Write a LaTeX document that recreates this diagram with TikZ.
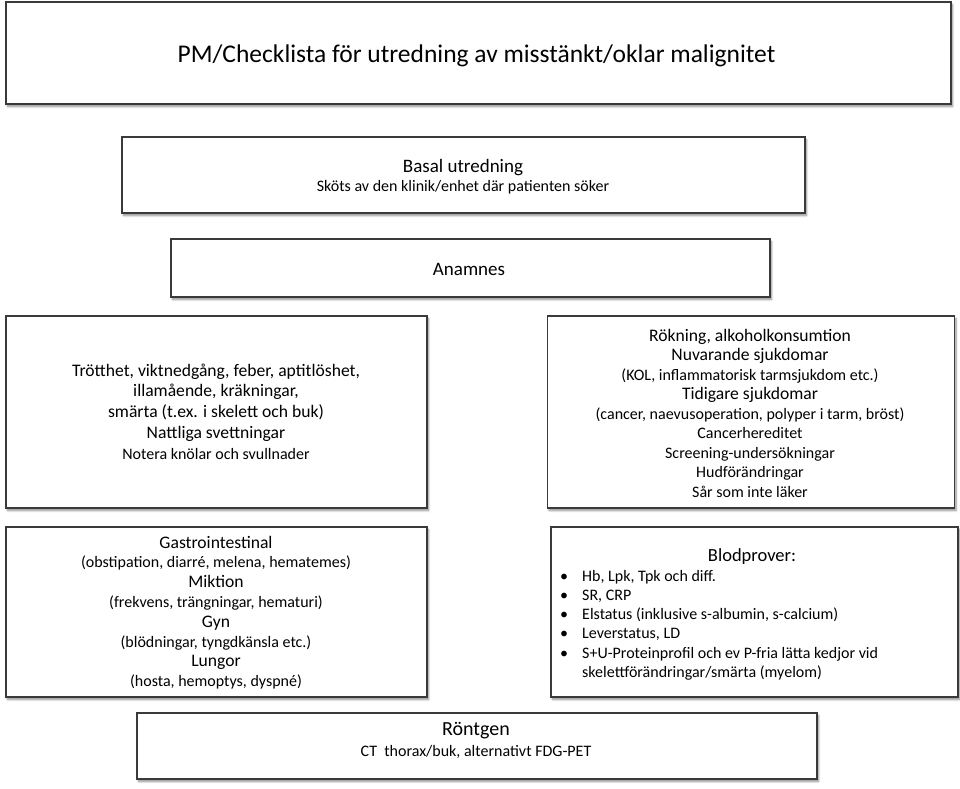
\documentclass[tikz,border=0pt]{standalone}
\usepackage{fontspec}
\setmainfont{Carlito}
\usetikzlibrary{shadows.blur}
\definecolor{edge}{HTML}{3A3A3A}
\tikzset{
  box/.style={draw=edge, line width=1.2pt, fill=white, inner sep=0pt, align=center,
    blur shadow={shadow xshift=1.5pt, shadow yshift=-2.5pt, shadow blur steps=6, shadow blur radius=2pt, shadow opacity=45}},
  txt/.style={inner sep=0pt, align=center, text=black},
}
\newcommand{\mysml}{\fontsize{16}{20}\selectfont}
\begin{document}
\begin{tikzpicture}[x=1pt,y=-1pt]
\useasboundingbox (0,0) rectangle (960,788);
% title
\node[box, minimum width=945, minimum height=102] (title) at (478.5,53) {};
\node[txt, font=\fontsize{25.5}{30}\selectfont] (titletext) at (476.5,55.5) {PM/Checklista för utredning av misstänkt/oklar malignitet};
% basal
\node[box, minimum width=683, minimum height=76] (basal) at (463.5,175) {};
\node[txt, font=\fontsize{16}{19}\selectfont] (basaltext) at (463,177) {{\fontsize{19}{19}\selectfont Basal utredning}\\{\fontsize{16}{19}\selectfont Sköts av den klinik/enhet där patienten söker}};
% anamnes
\node[box, minimum width=599, minimum height=58] (anamnes) at (470.5,268) {};
\node[txt, font=\fontsize{19}{22}\selectfont] (anamnestext) at (469,269.5) {Anamnes};
% left symptoms
\node[box, minimum width=421, minimum height=192] (symp) at (216.5,412) {};
\node[txt, font=\fontsize{17.6}{20.8}\selectfont] (symptext) at (216,411.5) {Trötthet, viktnedgång, feber, aptitlöshet,\\ illamående, kräkningar,\\ smärta (t.ex. i skelett och buk)\\ Nattliga svettningar\\ {\fontsize{16}{20.8}\selectfont Notera knölar och svullnader}};
% right history
\node[box, minimum width=407, minimum height=192] (hist) at (751,412) {};
\node[txt, font=\fontsize{17.6}{19.5}\selectfont] (histtext) at (750,413) {Rökning, alkoholkonsumtion\\ Nuvarande sjukdomar\\ {\mysml (KOL, inflammatorisk tarmsjukdom etc.)}\\ Tidigare sjukdomar\\ {\mysml (cancer, naevusoperation, polyper i tarm, bröst)}\\ {\mysml Cancerhereditet}\\ {\mysml Screening-undersökningar}\\ {\mysml Hudförändringar}\\ {\mysml Sår som inte läker}};
% gastro
\node[box, minimum width=421, minimum height=170] (gastro) at (216.5,612) {};
\node[txt, font=\fontsize{17.6}{19.8}\selectfont] (gastrotext) at (216,612.5) {Gastrointestinal\\ {\mysml (obstipation, diarré, melena, hematemes)}\\ Miktion\\ {\mysml (frekvens, trängningar, hematuri)}\\ Gyn\\ {\mysml (blödningar, tyngdkänsla etc.)}\\ Lungor\\ {\mysml (hosta, hemoptys, dyspné)}};
% blood
\node[box, minimum width=407, minimum height=170] (blood) at (754.5,612) {};
\node[txt, font=\fontsize{18.5}{22}\selectfont] (bloodhead) at (752,557) {Blodprover:};
\node[txt, anchor=north west, align=left, font=\fontsize{16}{19.2}\selectfont] (bloodlist) at (560,570) {%
\makebox[22pt][l]{•}Hb, Lpk, Tpk och diff.\\
\makebox[22pt][l]{•}SR, CRP\\
\makebox[22pt][l]{•}Elstatus (inklusive s-albumin, s-calcium)\\
\makebox[22pt][l]{•}Leverstatus, LD\\
\makebox[22pt][l]{•}S+U-Proteinprofil och ev P-fria lätta kedjor vid\\
\makebox[22pt][l]{}skelettförändringar/smärta (myelom)};
% rontgen
\node[box, minimum width=680, minimum height=66] (ront) at (477,746) {};
\node[txt, font=\fontsize{16}{21}\selectfont] (ronttext) at (476,740) {{\fontsize{20}{21}\selectfont Röntgen}\\{\fontsize{16}{21}\selectfont CT\ \ thorax/buk, alternativt FDG-PET}};
\end{tikzpicture}
\end{document}
